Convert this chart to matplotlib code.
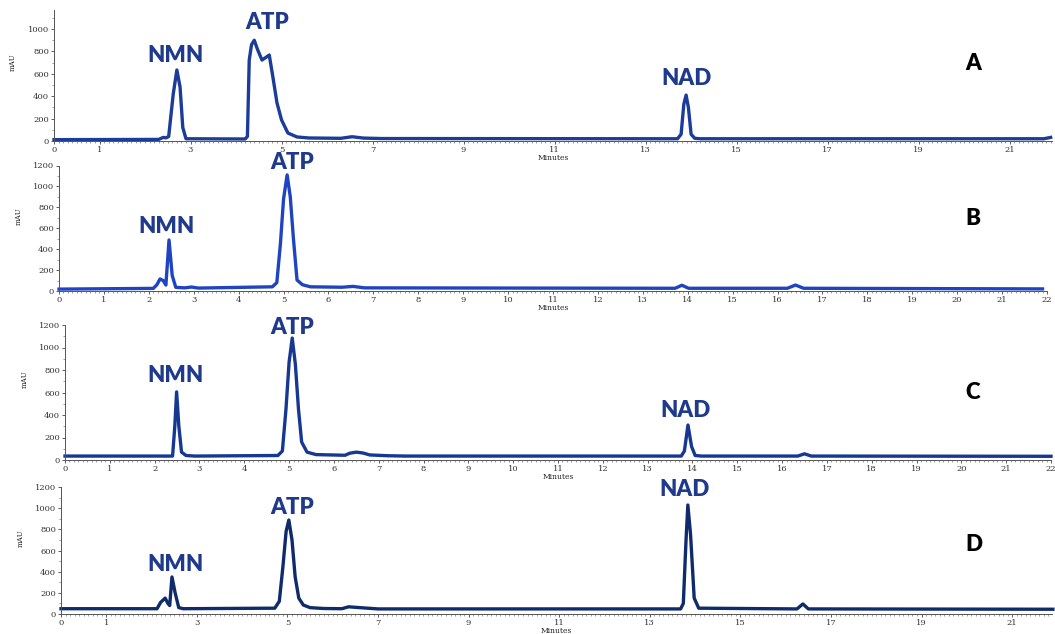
import numpy as np
import matplotlib
matplotlib.use('Agg')
import matplotlib.pyplot as plt
from matplotlib.ticker import MultipleLocator, FixedLocator

# chromatogram traces (minutes, mAU)
t_a = [0, 2.3, 2.4, 2.46, 2.52, 2.62, 2.70, 2.77, 2.83, 2.9, 4.2, 4.25, 4.29, 4.34, 4.40, 4.47, 4.57,
       4.65, 4.73, 4.81, 4.9, 5.0, 5.14, 5.34, 5.6, 6.3, 6.55, 6.8, 7.2, 13.7, 13.78, 13.84, 13.89,
       13.94, 14.0, 14.08, 14.2, 21.75, 21.9]
v_a = [12, 14, 32, 28, 40, 420, 634, 482, 120, 20, 18, 40, 723, 860, 900, 820, 723,
       745, 768, 571, 340, 188, 71, 36, 27, 24, 38, 26, 22, 20, 60, 330, 410,
       300, 60, 24, 20, 20, 32]

t_b = [0, 2.1, 2.18, 2.25, 2.32, 2.38, 2.45, 2.52, 2.6, 2.8, 2.95, 3.1, 4.75, 4.85, 4.93, 5.0, 5.08,
       5.15, 5.22, 5.3, 5.42, 5.6, 6.3, 6.55, 6.8, 13.72, 13.87, 14.02, 16.22, 16.4, 16.58, 21.9]
v_b = [18, 25, 60, 115, 100, 57, 488, 150, 35, 30, 38, 28, 40, 80, 450, 880, 1110,
       900, 500, 105, 60, 40, 36, 44, 30, 26, 55, 26, 26, 57, 26, 20]

t_c = [0, 2.4, 2.45, 2.49, 2.54, 2.6, 2.7, 2.9, 4.75, 4.85, 4.93, 5.0, 5.07, 5.14, 5.21, 5.28, 5.4,
       5.6, 6.25, 6.35, 6.5, 6.65, 6.8, 7.2, 7.6, 13.75, 13.82, 13.9, 13.98, 14.06, 14.2, 16.35,
       16.5, 16.65, 22.0]
v_c = [35, 35, 300, 605, 300, 70, 40, 35, 40, 80, 450, 870, 1084, 850, 450, 160, 70,
       48, 42, 60, 70, 62, 45, 38, 35, 35, 80, 311, 120, 40, 35, 35,
       55, 35, 33]

t_d = [0, 2.12, 2.2, 2.3, 2.36, 2.4, 2.45, 2.52, 2.6, 2.7, 4.72, 4.82, 4.9, 4.97, 5.03, 5.1, 5.17,
       5.25, 5.35, 5.5, 5.8, 6.2, 6.35, 6.6, 7.0, 13.68, 13.74, 13.8, 13.84, 13.9, 13.98, 14.08,
       16.25, 16.38, 16.5, 21.9]
v_d = [50, 50, 110, 150, 100, 80, 350, 200, 60, 50, 55, 120, 450, 780, 888, 700, 350,
       150, 85, 60, 52, 50, 68, 60, 48, 48, 100, 700, 1030, 750, 150, 55,
       48, 95, 48, 45]

# peak labels: (text, minutes, mAU)
labels_a = [('NMN', 2.68, 768), ('ATP', 4.68, 1062), ('NAD', 13.89, 562)]
labels_b = [('NMN', 2.40, 613), ('ATP', 5.19, 1226)]
labels_c = [('NMN', 2.46, 747), ('ATP', 5.07, 1182), ('NAD', 13.84, 436)]
labels_d = [('NMN', 2.52, 463), ('ATP', 5.10, 1011), ('NAD', 13.77, 1181)]

panel_names = ['A', 'B', 'C', 'D']
letter_pos = [(20.2, 696), (20.36, 690), (20.25, 596), (20.15, 652)]
y_ticks = [[0, 200, 400, 600, 800, 1000], [0, 200, 400, 600, 800, 1000, 1200],
           [0, 200, 400, 600, 800, 1000, 1200], [0, 200, 400, 600, 800, 1000, 1200]]
odd_ticks = [0, 1, 3, 5, 7, 9, 11, 13, 15, 17, 19, 21]
x_ticks = [odd_ticks, list(range(0, 23)), list(range(0, 23)), odd_ticks]
colors = ['#1b3c98', '#1f44c2', '#163892', '#0f2b6c']

W, H = 1055, 634
# pixel boxes: left, right, bottom, top ; and axis limits
boxes = [(54, 1052, 141, 10), (59, 1047, 291, 165.5), (65, 1051, 460, 325), (61, 1052, 614, 487)]
xmax = [21.93, 22.0, 22.0, 21.88]
ymax = [1170, 1200, 1200, 1200]

traces = [(t_a, v_a), (t_b, v_b), (t_c, v_c), (t_d, v_d)]
all_labels = [labels_a, labels_b, labels_c, labels_d]

fig = plt.figure(figsize=(W / 100, H / 100), dpi=100)
navy = '#1f3a8c'

for i in range(4):
    l, r, b, t = boxes[i]
    ax = fig.add_axes([l / W, 1 - b / H, (r - l) / W, (b - t) / H])
    tt, vv = traces[i]
    ax.plot(tt, vv, color=colors[i], lw=2.4, solid_joinstyle='round', clip_on=False)
    ax.set_xlim(0, xmax[i])
    ax.set_ylim(0, ymax[i])

    for sp in ['top', 'right']:
        ax.spines[sp].set_visible(False)
    for sp in ['left', 'bottom']:
        ax.spines[sp].set_linewidth(0.7)
        ax.spines[sp].set_color('#555555')

    ax.xaxis.set_major_locator(FixedLocator(x_ticks[i]))
    ax.xaxis.set_minor_locator(MultipleLocator(0.1))
    ax.yaxis.set_major_locator(FixedLocator(y_ticks[i]))
    ax.yaxis.set_minor_locator(MultipleLocator(100))
    ax.tick_params(axis='both', which='major', length=2, width=0.6, color='#444444',
                   labelsize=6, pad=1.5)
    ax.tick_params(axis='both', which='minor', length=1.2, width=0.5, color='#777777')
    for lab in ax.get_xticklabels() + ax.get_yticklabels():
        lab.set_family('DejaVu Serif')
        lab.set_color('#333333')

    ax.set_xlabel('Minutes', fontsize=5.5, family='DejaVu Serif', labelpad=0, color='#222222')
    ax.set_ylabel('mAU', fontsize=5, family='DejaVu Serif', labelpad=3, color='#222222')
    ax.yaxis.set_label_coords(-0.037, 0.6)

    for name, x, y in all_labels[i]:
        ax.text(x, y, name, ha='center', va='center', fontsize=16, fontweight='heavy',
                family='Lato', color=navy, clip_on=False)
    lx, ly = letter_pos[i]
    ax.text(lx, ly, panel_names[i], ha='center', va='center', fontsize=16, fontweight='heavy',
            family='Lato', color='black')

fig.savefig('out.png', dpi=100)
